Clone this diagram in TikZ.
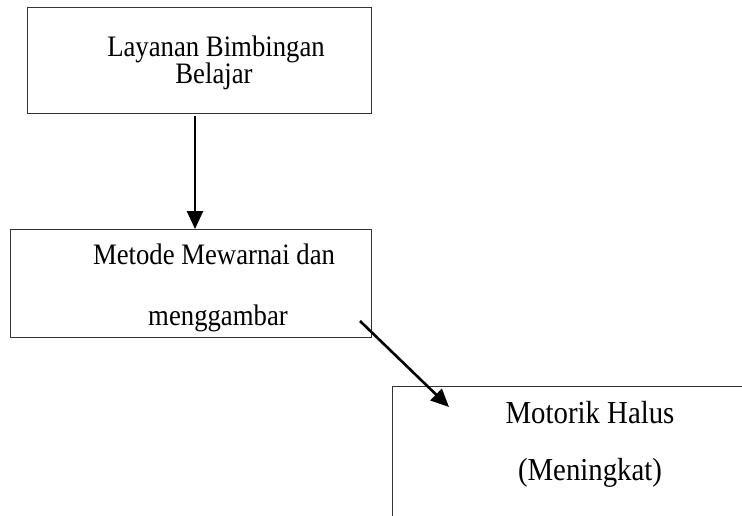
\documentclass[tikz,border=0pt]{standalone}
\usepackage{fontspec}
\setmainfont[FakeStretch=0.9]{Liberation Serif}
\usetikzlibrary{arrows.meta}
\begin{document}
\begin{tikzpicture}[x=1pt,y=-1pt,
  boxstyle/.style={draw=black!80,line width=1.1pt},
  txt/.style={anchor=base,inner sep=0pt,font=\fontsize{29.7}{33}\selectfont},
  txtbig/.style={anchor=base,inner sep=0pt,font=\fontsize{32}{35}\selectfont},
  arr/.style={line width=2.6pt,-{Triangle[length=18pt,width=16pt]}}]
\useasboundingbox (0,0) rectangle (742,516);
\clip (0,0) rectangle (742,516);
\fill[white] (0,0) rectangle (742,516);
% boxes
\node[boxstyle,inner sep=0pt,minimum width=344pt,minimum height=106pt,anchor=north west] (box1) at (27,7) {};
\node[boxstyle,inner sep=0pt,minimum width=361pt,minimum height=108pt,anchor=north west] (box2) at (10,229) {};
\node[boxstyle,inner sep=0pt,minimum width=380pt,minimum height=160pt,anchor=north west] (box3) at (392,386) {};
% texts
\node[txt] (t1a) at (216,57) {Layanan Bimbingan};
\node[txt] (t1b) at (214,84) {Belajar};
\node[txt] (t2a) at (214,264) {Metode Mewarnai dan};
\node[txt] (t2b) at (218,325) {menggambar};
\node[txtbig] (t3a) at (590,423) {Motorik Halus};
\node[txtbig] (t3b) at (590,480) {(Meningkat)};
% connectors
\coordinate (c1) at (195,0);
\coordinate (a2s) at (360,321);
\coordinate (a2e) at (449,407);
\draw[arr] ([yshift=-2pt]box1.south -| c1) -- (box2.north -| c1);
\draw[arr] (a2s) -- (a2e);
\end{tikzpicture}
\end{document}
